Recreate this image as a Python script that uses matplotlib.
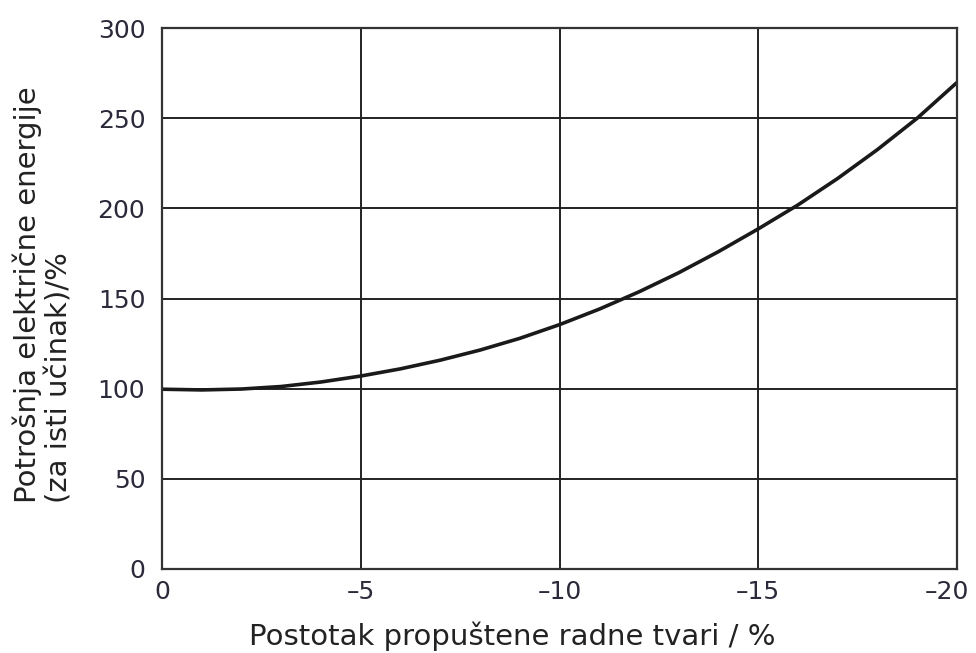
import numpy as np
import matplotlib
matplotlib.use("Agg")
import matplotlib.pyplot as plt
from matplotlib.transforms import ScaledTranslation

# procitano sa slike
x = [0, -1, -2, -3, -4, -5, -6, -7, -8, -9, -10,
     -11, -12, -13, -14, -15, -16, -17, -18, -19, -20]
y = [99.7, 99.3, 99.8, 101.2, 103.7, 107.0, 111.0, 115.8, 121.4, 127.9, 135.5,
     144.1, 153.7, 164.3, 176.0, 188.6, 201.9, 216.6, 232.6, 250.0, 269.8]
xticks = [0, -5, -10, -15, -20]
xtick_labels = ["0", "\u20135", "\u201310", "\u201315", "\u201320"]
yticks = [0, 50, 100, 150, 200, 250, 300]

plt.rcParams['font.family'] = ['DejaVu Sans']
fig = plt.figure(figsize=(9.76, 6.53), dpi=100)
ax = fig.add_axes([162/976, 84/653, 795/976, 541/653])

ax.plot(x, y, color="#1a1a1a", lw=2.6, solid_joinstyle="round")
ax.set_xlim(0, -20)
ax.set_ylim(0, 300)
ax.set_xticks(xticks)
ax.set_xticklabels(xtick_labels)
ax.set_yticks(yticks)
ax.grid(True, color="#222222", lw=1.4)
for s in ax.spines.values():
    s.set_color("#333333")
    s.set_linewidth(1.6)
ax.tick_params(axis="both", length=0, labelsize=18, labelcolor="#2a2a3a")
ax.tick_params(axis="x", pad=8)
ax.tick_params(axis="y", pad=12)
# zadnja oznaka malo ulijevo da ne izlazi van
last = ax.get_xticklabels()[-1]
last.set_transform(last.get_transform() + ScaledTranslation(-10/100, 0, fig.dpi_scale_trans))

fig.text(512/976, 1 - 636/653, "Postotak propuštene radne tvari / %",
         ha="center", va="center", fontsize=21, color="#222222")
fig.text(43/976, 1 - 503/653, "Potrošnja električne energije\n(za isti učinak)/%",
         rotation=90, ha="center", va="bottom", multialignment="left",
         fontsize=21, color="#222222", linespacing=1.2)

fig.savefig("out.png", dpi=100)
